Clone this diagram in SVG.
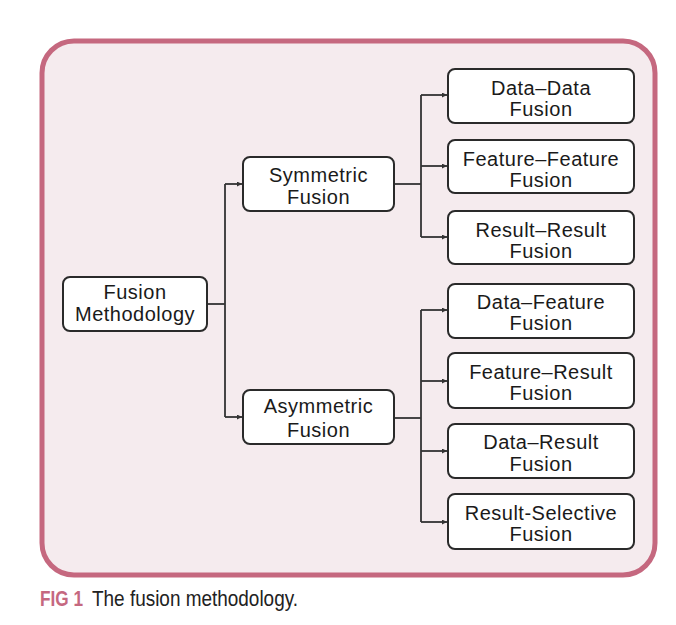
<svg xmlns="http://www.w3.org/2000/svg" width="676" height="625" viewBox="0 0 676 625">
<style>
.node rect{fill:#ffffff;stroke:#2a2a2a;stroke-width:2}
.node text{font-family:"Liberation Sans",Arial,sans-serif;font-size:20px;letter-spacing:0.5px;fill:#1a1a1a;text-anchor:middle}
#connectors path{fill:none;stroke:#333333;stroke-width:1.8}
.cap{font-family:"Liberation Sans Narrow","Liberation Sans",Arial,sans-serif;font-size:22px}
</style>
<defs>
<marker id="arr" viewBox="0 0 10 10" refX="10" refY="5" markerWidth="5" markerHeight="5" markerUnits="userSpaceOnUse" orient="auto">
<path d="M0,0 L10,5 L0,10 z" fill="#333333"/>
</marker>
</defs>
<rect x="0" y="0" width="676" height="625" fill="#ffffff"/>
<rect id="panel" x="42" y="41" width="613" height="534" rx="32" ry="32" fill="#f5ebee" stroke="#c5687f" stroke-width="5"/>

<g id="connectors">
<path d="M207,304 H225"/>
<path d="M225,184 V417"/>
<path d="M225,184 H242" marker-end="url(#arr)"/>
<path d="M225,417 H242" marker-end="url(#arr)"/>
<path d="M394,184 H421"/>
<path d="M421,95 V237"/>
<path d="M421,95 H447" marker-end="url(#arr)"/>
<path d="M421,166 H447" marker-end="url(#arr)"/>
<path d="M421,237 H447" marker-end="url(#arr)"/>
<path d="M394,418 H421"/>
<path d="M421,310 V522"/>
<path d="M421,310 H447" marker-end="url(#arr)"/>
<path d="M421,381 H447" marker-end="url(#arr)"/>
<path d="M421,451 H447" marker-end="url(#arr)"/>
<path d="M421,522 H447" marker-end="url(#arr)"/>
</g>

<g id="fusion-methodology" class="node">
<rect x="63" y="277" width="144" height="54" rx="7"/>
<text x="135" y="299">Fusion</text>
<text x="135" y="321">Methodology</text>
</g>
<g id="symmetric" class="node">
<rect x="243" y="157" width="151" height="54" rx="7"/>
<text x="318.5" y="182">Symmetric</text>
<text x="318.5" y="204">Fusion</text>
</g>
<g id="asymmetric" class="node">
<rect x="243" y="390" width="151" height="54" rx="7"/>
<text x="318.5" y="413">Asymmetric</text>
<text x="318.5" y="437">Fusion</text>
</g>
<g id="data-data" class="node">
<rect x="448" y="69" width="186" height="54" rx="7"/>
<text x="541" y="95">Data–Data</text>
<text x="541" y="116">Fusion</text>
</g>
<g id="feature-feature" class="node">
<rect x="448" y="140" width="186" height="53" rx="7"/>
<text x="541" y="166">Feature–Feature</text>
<text x="541" y="187">Fusion</text>
</g>
<g id="result-result" class="node">
<rect x="448" y="211" width="186" height="53" rx="7"/>
<text x="541" y="237">Result–Result</text>
<text x="541" y="258">Fusion</text>
</g>
<g id="data-feature" class="node">
<rect x="448" y="284" width="186" height="54" rx="7"/>
<text x="541" y="309">Data–Feature</text>
<text x="541" y="330">Fusion</text>
</g>
<g id="feature-result" class="node">
<rect x="448" y="353" width="186" height="55" rx="7"/>
<text x="541" y="379">Feature–Result</text>
<text x="541" y="400">Fusion</text>
</g>
<g id="data-result" class="node">
<rect x="448" y="424" width="186" height="54" rx="7"/>
<text x="541" y="449">Data–Result</text>
<text x="541" y="471">Fusion</text>
</g>
<g id="result-selective" class="node">
<rect x="448" y="494" width="186" height="55" rx="7"/>
<text x="541" y="520">Result-Selective</text>
<text x="541" y="541">Fusion</text>
</g>

<g id="caption">
<text class="cap" x="40" y="606" font-weight="bold" fill="#c5687f" textLength="43" lengthAdjust="spacingAndGlyphs">FIG 1</text>
<text class="cap" x="92" y="606" fill="#222222" textLength="206" lengthAdjust="spacingAndGlyphs">The fusion methodology.</text>
</g>
</svg>
